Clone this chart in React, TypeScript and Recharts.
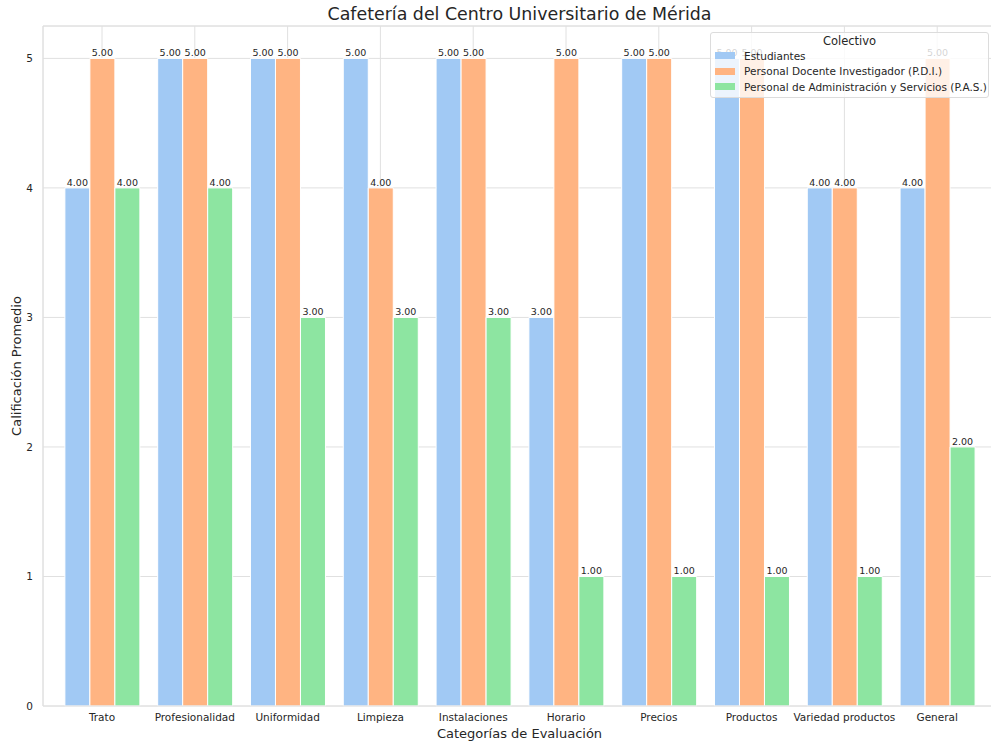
import { BarChart, Bar, XAxis, YAxis, CartesianGrid, LabelList, ReferenceLine } from "recharts";

const categories = [
  "Trato",
  "Profesionalidad",
  "Uniformidad",
  "Limpieza",
  "Instalaciones",
  "Horario",
  "Precios",
  "Productos",
  "Variedad productos",
  "General",
];

const estudiantes = [4, 5, 5, 5, 5, 3, 5, 5, 4, 4];
const pdi = [5, 5, 5, 4, 5, 5, 5, 5, 4, 5];
const pas = [4, 4, 3, 3, 3, 1, 1, 1, 1, 2];

const yTicks = [0, 1, 2, 3, 4, 5];

const series = [
  { key: "estudiantes", name: "Estudiantes", color: "#a1c9f4" },
  { key: "pdi", name: "Personal Docente Investigador (P.D.I.)", color: "#ffb482" },
  { key: "pas", name: "Personal de Administración y Servicios (P.A.S.)", color: "#8de5a1" },
];

const data = categories.map((categoria, i) => ({
  categoria,
  estudiantes: estudiantes[i],
  pdi: pdi[i],
  pas: pas[i],
}));

const FONT = "'DejaVu Sans', sans-serif";
const GRID = "#e0e0e0";
const TEXT = "#262626";

export default function App() {
  return (
    <div
      style={{
        position: "fixed",
        left: 0,
        top: 0,
        width: 991,
        height: 744,
        overflow: "hidden",
        background: "#fff",
        fontFamily: FONT,
      }}
    >
      <BarChart
        width={1000}
        height={744}
        data={data}
        margin={{ top: 26, right: 4, bottom: 0, left: 0 }}
        barCategoryGap="10%"
        barGap={0}
      >
        <CartesianGrid stroke={GRID} strokeWidth={1} />
        <ReferenceLine y={5.25} stroke={GRID} strokeWidth={1} />
        <XAxis
          dataKey="categoria"
          height={38}
          padding={{ left: 12.6, right: 12.4 }}
          tickLine={false}
          tickSize={0}
          tickMargin={8}
          axisLine={{ stroke: GRID }}
          interval={0}
          tick={{ fontSize: 10.5, fill: TEXT, fontFamily: FONT }}
        />
        <YAxis
          width={43}
          domain={[0, 5.25]}
          ticks={yTicks}
          tickLine={false}
          tickSize={0}
          tickMargin={10}
          axisLine={{ stroke: GRID }}
          tick={{ fontSize: 10.5, fill: TEXT, fontFamily: FONT }}
        />
        {series.map((s) => (
          <Bar
            key={s.key}
            dataKey={s.key}
            name={s.name}
            fill={s.color}
            stroke="#fff"
            strokeWidth={1}
            isAnimationActive={false}
          >
            <LabelList
              dataKey={s.key}
              position="top"
              offset={2}
              formatter={(v: any) => Number(v).toFixed(2)}
              style={{ fontSize: 9.5, fill: TEXT, fontFamily: FONT }}
            />
          </Bar>
        ))}
      </BarChart>

      {/* title and axis labels */}
      <div
        style={{
          position: "absolute",
          left: 43,
          width: 953,
          top: 4,
          textAlign: "center",
          fontSize: 17.4,
          color: TEXT,
        }}
      >
        Cafetería del Centro Universitario de Mérida
      </div>
      <div
        style={{
          position: "absolute",
          left: 43,
          width: 953,
          top: 726,
          textAlign: "center",
          fontSize: 13,
          color: TEXT,
        }}
      >
        Categorías de Evaluación
      </div>
      <div
        style={{
          position: "absolute",
          left: 16,
          top: 366,
          transform: "translate(-50%, -50%) rotate(-90deg)",
          whiteSpace: "nowrap",
          fontSize: 13,
          color: TEXT,
        }}
      >
        Calificación Promedio
      </div>

      {/* legend */}
      <div
        style={{
          position: "absolute",
          left: 710,
          top: 32,
          width: 279,
          height: 66,
          boxSizing: "border-box",
          background: "rgba(255,255,255,0.8)",
          border: "1px solid #dcdcdc",
          borderRadius: 3,
          fontSize: 10.5,
          color: TEXT,
          whiteSpace: "nowrap",
        }}
      >
        <div style={{ textAlign: "center", marginTop: 1, fontSize: 11.5 }}>Colectivo</div>
        {series.map((s) => (
          <div key={s.key} style={{ display: "flex", alignItems: "center", height: 15.5, marginLeft: 4 }}>
            <span style={{ display: "inline-block", width: 20, height: 7, background: s.color, marginRight: 9, flexShrink: 0 }} />
            <span>{s.name}</span>
          </div>
        ))}
      </div>
    </div>
  );
}
